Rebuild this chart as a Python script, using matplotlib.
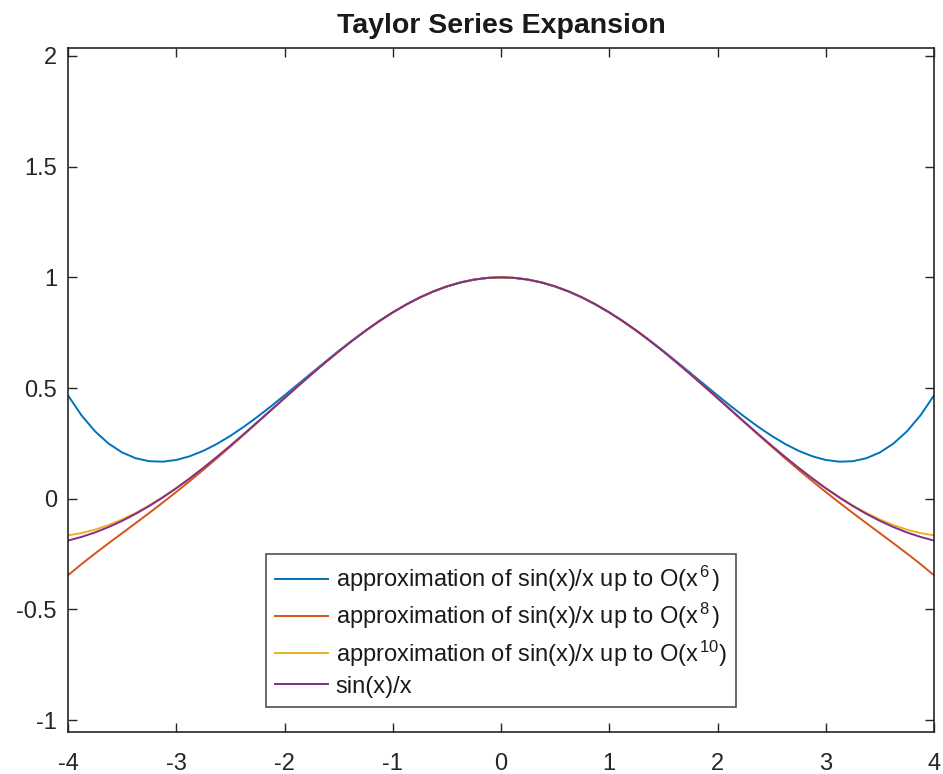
import matplotlib
matplotlib.use("Agg")
import matplotlib.pyplot as plt

plt.rcParams['font.family'] = ['Liberation Sans', 'DejaVu Sans']
plt.rcParams['mathtext.fontset'] = 'custom'
plt.rcParams['mathtext.rm'] = 'Liberation Sans'
plt.rcParams['mathtext.it'] = 'Liberation Sans'

x_vals = [-4.0, -3.875, -3.75, -3.625, -3.5, -3.375, -3.25, -3.125, -3.0, -2.875, -2.75,
          -2.625, -2.5, -2.375, -2.25, -2.125, -2.0, -1.875, -1.75, -1.625, -1.5, -1.375,
          -1.25, -1.125, -1.0, -0.875, -0.75, -0.625, -0.5, -0.375, -0.25, -0.125, 0.0,
          0.125, 0.25, 0.375, 0.5, 0.625, 0.75, 0.875, 1.0, 1.125, 1.25, 1.375, 1.5, 1.625,
          1.75, 1.875, 2.0, 2.125, 2.25, 2.375, 2.5, 2.625, 2.75, 2.875, 3.0, 3.125, 3.25,
          3.375, 3.5, 3.625, 3.75, 3.875, 4.0]

# values from x = 0 to x = 4 (the curves are symmetric)
half_o6 = [1.0, 0.997398, 0.989616, 0.976727, 0.958854, 0.936167, 0.908887, 0.877281,
           0.841667, 0.802411, 0.759928, 0.714683, 0.667188, 0.618003, 0.567741, 0.517059,
           0.466667, 0.417320, 0.369824, 0.325035, 0.283854, 0.247235, 0.216178, 0.191734,
           0.175, 0.167125, 0.169303, 0.182781, 0.208854, 0.248863, 0.304199, 0.376304, 0.466667]
half_o8 = [1.0, 0.997398, 0.989616, 0.976727, 0.958851, 0.936155, 0.908851, 0.877192,
           0.841468, 0.802009, 0.759171, 0.713342, 0.664927, 0.614350, 0.562042, 0.508438,
           0.453968, 0.399050, 0.344081, 0.289427, 0.235413, 0.182320, 0.130363, 0.079689,
           0.030357, -0.017661, -0.064510, -0.110451, -0.155881, -0.201350, -0.247570,
           -0.295434, -0.346032]
half_o10 = [1.0, 0.997398, 0.989616, 0.976727, 0.958851, 0.936155, 0.908852, 0.877193,
            0.841471, 0.802016, 0.759188, 0.713377, 0.664998, 0.614484, 0.562284, 0.508859,
            0.454674, 0.400196, 0.345891, 0.292217, 0.239618, 0.188533, 0.139377, 0.092552,
            0.048438, 0.007402, -0.030209, -0.064061, -0.093825, -0.119182, -0.139803,
            -0.155343, -0.165432]
half_sinc = [1.0, 0.997398, 0.989616, 0.976728, 0.958851, 0.936155, 0.908852, 0.877193,
             0.841471, 0.802016, 0.759188, 0.713377, 0.664997, 0.614481, 0.562278, 0.508846,
             0.454649, 0.400151, 0.345810, 0.292077, 0.239389, 0.188160, 0.138786, 0.091633,
             0.047040, 0.005310, -0.033291, -0.068532, -0.100224, -0.128220, -0.152416,
             -0.172749, -0.189201]

def mirror(h):
    return h[:0:-1] + h

y_o6 = mirror(half_o6)
y_o8 = mirror(half_o8)
y_o10 = mirror(half_o10)
y_sinc = mirror(half_sinc)

labels = [r'approximation of sin(x)/x up to O(x$^{\,6\,}$)',
          r'approximation of sin(x)/x up to O(x$^{\,8\,}$)',
          r'approximation of sin(x)/x up to O(x$^{\,10}$)',
          'sin(x)/x']
colors = ['#0072BD', '#D95319', '#EDB120', '#7E2F8E']
x_ticks = [-4, -3, -2, -1, 0, 1, 2, 3, 4]
y_ticks = [-1, -0.5, 0, 0.5, 1, 1.5, 2]
y_tick_labels = ['-1', '-0.5', '0', '0.5', '1', '1.5', '2']

fig = plt.figure(figsize=(9.43, 7.74), dpi=100)
ax = fig.add_axes([68/943, 1-732/774, 866/943, 684/774])

for ys, lab, c in zip([y_o6, y_o8, y_o10, y_sinc], labels, colors):
    ax.plot(x_vals, ys, color=c, lw=1.4, label=lab)

ax.set_xlim(-4, 4)
ax.set_ylim(-1.054, 2.036)
ax.set_xticks(x_ticks)
ax.set_xticklabels([str(t) for t in x_ticks])
ax.set_yticks(y_ticks)
ax.set_yticklabels(y_tick_labels)
ax.tick_params(direction='in', top=True, right=True, length=6.5, width=1,
               colors='#262626', labelsize=17)
ax.tick_params(axis='x', pad=15)
ax.tick_params(axis='y', pad=8)
for s in ax.spines.values():
    s.set_color('#262626')
    s.set_linewidth(1.2)

ax.set_title('Taylor Series Expansion', fontsize=20.5, fontweight='bold', color='#1a1a1a', pad=11)

leg = ax.legend(loc='lower center', bbox_to_anchor=(0.5, 0.0365), borderaxespad=0,
                fontsize=17, frameon=True, fancybox=False, edgecolor='#262626',
                handlelength=2.25, handletextpad=0.3, labelspacing=0.3, borderpad=0.4)
leg.get_frame().set_linewidth(1.2)
for t in leg.get_texts():
    t.set_color('#1a1a1a')

fig.savefig('out.png', dpi=100)
